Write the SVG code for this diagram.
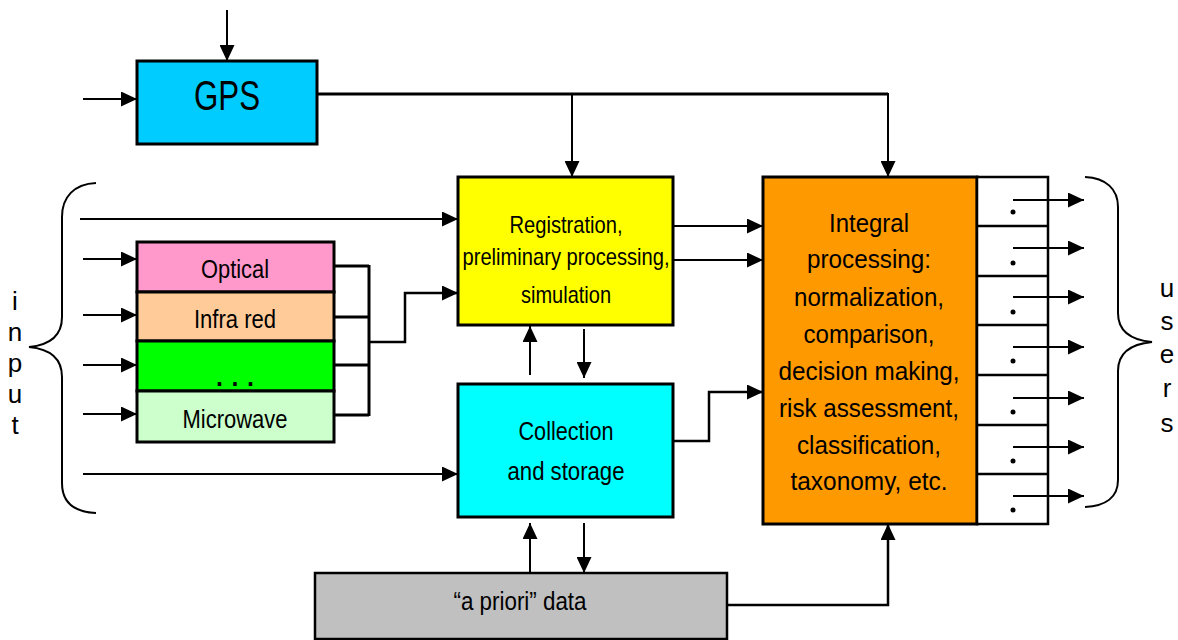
<svg xmlns="http://www.w3.org/2000/svg" width="1178" height="640" viewBox="0 0 1178 640">
<style>
.box{stroke:#000;stroke-width:3}
.t{font-family:"Liberation Sans Narrow","Liberation Sans",Arial,sans-serif;font-size:25px;fill:#000;text-anchor:middle}
.v{font-family:"Liberation Sans",Arial,sans-serif;font-size:26px;fill:#000;text-anchor:middle}
.ln{fill:none;stroke:#000;stroke-width:2}
.bus{fill:none;stroke:#000;stroke-width:3}
.ar{fill:none;stroke:#000;stroke-width:2;marker-end:url(#ah)}
.ar3{fill:none;stroke:#000;stroke-width:2.5;marker-end:url(#ah)}
</style>
<defs>
<marker id="ah" markerUnits="userSpaceOnUse" markerWidth="16" markerHeight="15" refX="16" refY="7.5" orient="auto">
<path d="M0,0 L16,7.5 L0,15 z" fill="#000"/>
</marker>
</defs>
<rect width="1178" height="640" fill="#fff"/>

<g id="gps">
<rect class="box" x="137" y="61" width="180" height="83" fill="#00CCFF"/>
<text class="t" x="227" y="110" style="font-size:42px" textLength="66" lengthAdjust="spacingAndGlyphs">GPS</text>
</g>

<g id="sensors">
<g id="optical"><rect class="box" x="137" y="242" width="197" height="50" fill="#FF99CC"/>
<text class="t" x="235" y="278" textLength="68" lengthAdjust="spacingAndGlyphs">Optical</text></g>
<g id="infrared"><rect class="box" x="137" y="292" width="197" height="49" fill="#FFCC99"/>
<text class="t" x="235" y="328" textLength="82" lengthAdjust="spacingAndGlyphs">Infra red</text></g>
<g id="other"><rect class="box" x="137" y="341" width="197" height="50" fill="#00FF00"/>
<text class="t" x="235" y="386" style="font-weight:bold" textLength="38" lengthAdjust="spacing">. . .</text></g>
<g id="microwave"><rect class="box" x="137" y="391" width="197" height="51" fill="#CCFFCC"/>
<text class="t" x="235" y="428" textLength="105" lengthAdjust="spacingAndGlyphs">Microwave</text></g>
</g>

<g id="registration">
<rect class="box" x="458" y="177" width="215" height="148" fill="#FFFF00"/>
<text class="t" x="566" y="233" style="font-size:24px" textLength="113" lengthAdjust="spacingAndGlyphs">Registration,</text>
<text class="t" x="566" y="265" style="font-size:24px" textLength="207" lengthAdjust="spacingAndGlyphs">preliminary processing,</text>
<text class="t" x="566" y="303" style="font-size:24px" textLength="90" lengthAdjust="spacingAndGlyphs">simulation</text>
</g>

<g id="collection">
<rect class="box" x="458" y="384" width="215" height="133" fill="#00FFFF"/>
<text class="t" x="566" y="440" textLength="95" lengthAdjust="spacingAndGlyphs">Collection</text>
<text class="t" x="566" y="480" textLength="117" lengthAdjust="spacingAndGlyphs">and storage</text>
</g>

<g id="apriori">
<rect class="box" x="315" y="573" width="412" height="66" fill="#C0C0C0" style="stroke-width:2.5"/>
<text class="t" x="520" y="610" textLength="133" lengthAdjust="spacingAndGlyphs">“a priori” data</text>
</g>

<g id="integral">
<rect class="box" x="763" y="177" width="214" height="347" fill="#FF9900"/>
<text class="t" x="869" y="232" style="font-size:26px" textLength="80" lengthAdjust="spacingAndGlyphs">Integral</text>
<text class="t" x="869" y="268" style="font-size:26px" textLength="124" lengthAdjust="spacingAndGlyphs">processing:</text>
<text class="t" x="869" y="306" style="font-size:26px" textLength="150" lengthAdjust="spacingAndGlyphs">normalization,</text>
<text class="t" x="869" y="343" style="font-size:26px" textLength="131" lengthAdjust="spacingAndGlyphs">comparison,</text>
<text class="t" x="869" y="380" style="font-size:26px" textLength="181" lengthAdjust="spacingAndGlyphs">decision making,</text>
<text class="t" x="869" y="417" style="font-size:26px" textLength="180" lengthAdjust="spacingAndGlyphs">risk assessment,</text>
<text class="t" x="869" y="454" style="font-size:26px" textLength="144" lengthAdjust="spacingAndGlyphs">classification,</text>
<text class="t" x="869" y="490" style="font-size:26px" textLength="157" lengthAdjust="spacingAndGlyphs">taxonomy, etc.</text>
</g>

<g id="outputs">
<rect class="box" x="977" y="177" width="71" height="347" fill="#fff" style="stroke-width:2.5"/>
<path class="bus" style="stroke-width:2.5" d="M977,226 H1048 M977,276 H1048 M977,325 H1048 M977,375 H1048 M977,425 H1048 M977,474 H1048"/>
<g fill="#000">
<circle cx="1013" cy="212" r="2.5"/><circle cx="1013" cy="263" r="2.5"/><circle cx="1013" cy="312" r="2.5"/>
<circle cx="1013" cy="361" r="2.5"/><circle cx="1013" cy="412" r="2.5"/><circle cx="1013" cy="461" r="2.5"/>
<circle cx="1013" cy="510" r="2.5"/>
</g>
</g>

<g id="input-label">
<path class="ln" d="M96,183 C74,184 62,197 62,217 L62,317 C62,336 50,345 29,347 C50,349 62,358 62,377 L62,483 C62,502 74,512 96,513"/>
<text class="v"><tspan x="15" y="310">i</tspan><tspan x="15" y="341">n</tspan><tspan x="15" y="372">p</tspan><tspan x="15" y="403">u</tspan><tspan x="15" y="434">t</tspan></text>
</g>

<g id="users-label">
<path class="ln" d="M1085,177 C1106,178 1118,189 1118,207 L1118,313 C1118,332 1131,340 1152,342 C1131,344 1118,352 1118,371 L1118,480 C1118,497 1106,506 1085,507"/>
<text class="v"><tspan x="1167" y="297">u</tspan><tspan x="1167" y="330">s</tspan><tspan x="1167" y="363">e</tspan><tspan x="1167" y="397">r</tspan><tspan x="1167" y="432">s</tspan></text>
</g>

<g id="connectors">
<line class="ar" x1="227" y1="10" x2="227" y2="61"/>
<line class="ar" x1="83" y1="99" x2="137" y2="99"/>
<path class="bus" d="M317,94 H888"/>
<line class="ar" x1="572" y1="94" x2="572" y2="177"/>
<line class="ar" x1="888" y1="93" x2="888" y2="177"/>

<line class="ar" x1="80" y1="219" x2="458" y2="219"/>
<line class="ar" x1="83" y1="474" x2="458" y2="474"/>
<line class="ar" x1="83" y1="259" x2="137" y2="259"/>
<line class="ar" x1="83" y1="315" x2="137" y2="315"/>
<line class="ar" x1="83" y1="365" x2="137" y2="365"/>
<line class="ar" x1="83" y1="414" x2="137" y2="414"/>

<path class="bus" d="M334,266 H369 M334,317 H369 M334,365 H369 M334,415 H369 M369,265 V416"/>
<path class="ar3" d="M369,342 H405 V293 H458"/>

<line class="ar" x1="673" y1="226" x2="763" y2="226"/>
<line class="ar" x1="673" y1="260" x2="763" y2="260"/>
<path class="ar3" d="M673,441 H709 V392 H763"/>

<line class="ar" x1="530" y1="375" x2="530" y2="326"/>
<line class="ar" x1="584" y1="329" x2="584" y2="378"/>
<line class="ar" x1="530" y1="573" x2="530" y2="523"/>
<line class="ar" x1="584" y1="523" x2="584" y2="573"/>

<path class="ar3" d="M727,605 H888 V524"/>

<line class="ar" x1="1013" y1="200" x2="1084" y2="200"/>
<line class="ar" x1="1013" y1="248" x2="1084" y2="248"/>
<line class="ar" x1="1013" y1="297" x2="1084" y2="297"/>
<line class="ar" x1="1013" y1="347" x2="1084" y2="347"/>
<line class="ar" x1="1013" y1="398" x2="1084" y2="398"/>
<line class="ar" x1="1013" y1="447" x2="1084" y2="447"/>
<line class="ar" x1="1013" y1="496" x2="1084" y2="496"/>
</g>
</svg>
